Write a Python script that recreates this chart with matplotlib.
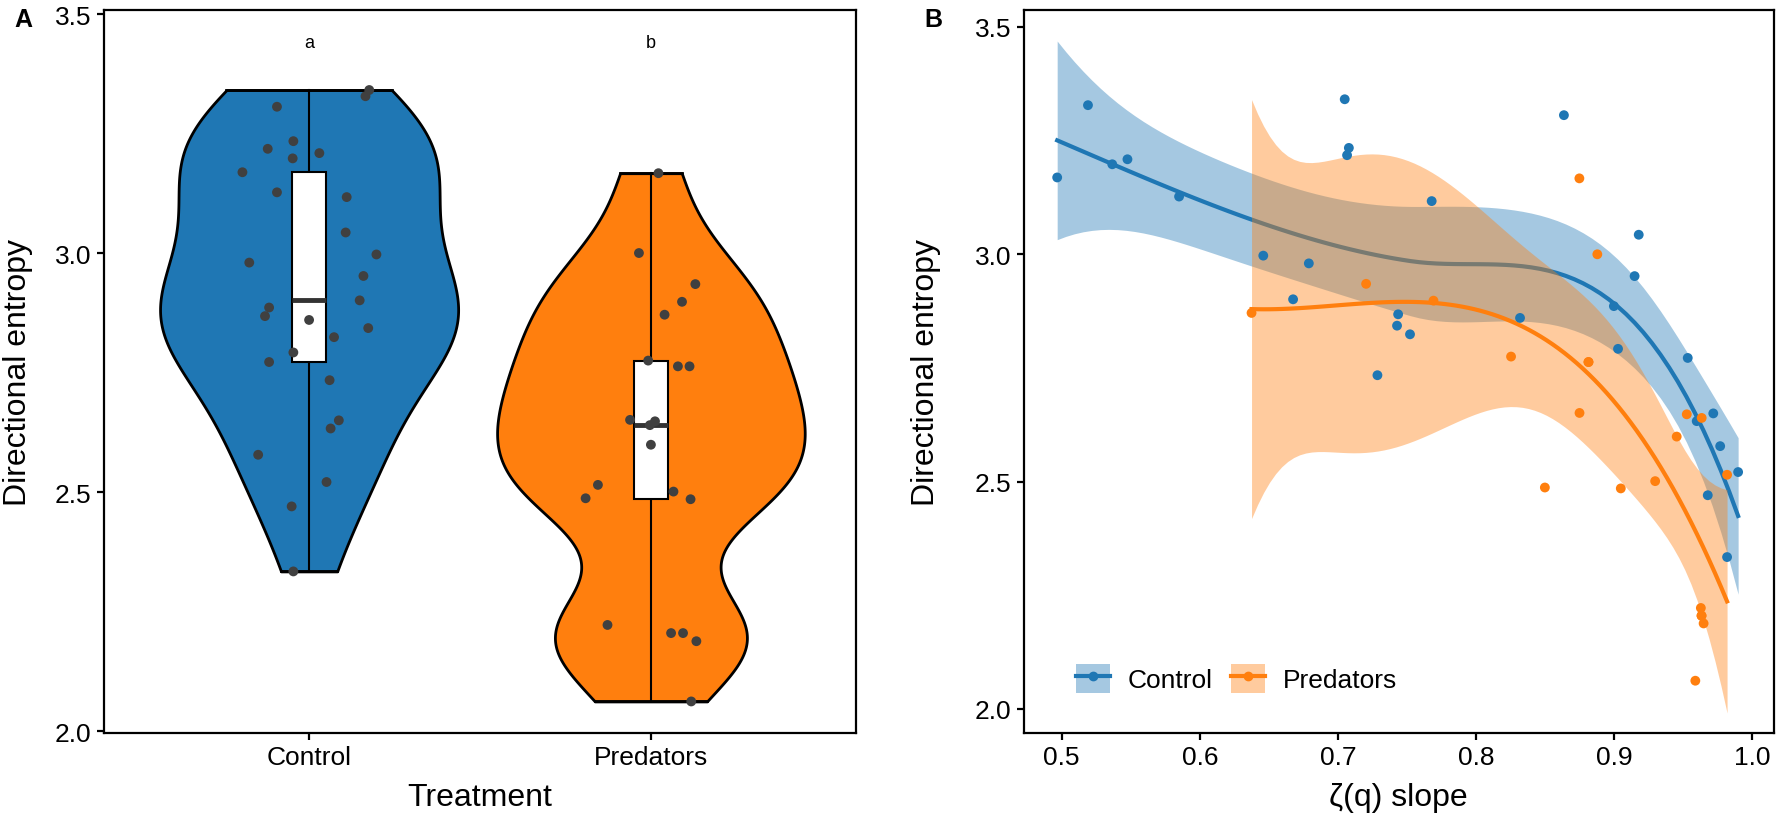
import numpy as np
import matplotlib
matplotlib.use("Agg")
import matplotlib.pyplot as plt
from matplotlib.patches import Patch
from matplotlib.lines import Line2D

plt.rcParams['font.family'] = ['Liberation Sans', 'DejaVu Sans']

treatments = ['Control', 'Predators']
letters = ['a', 'b']
colors = ['#1f77b4', '#ff7f0e']
# smoother used for each treatment's trend line in panel B
smoothers = ['loess', 'cubic']

# zeta(q) slope and directional entropy, one entry per animal
control_slope = [0.4967, 0.519, 0.5366, 0.5476, 0.585, 0.705, 0.708, 0.7067,
                 0.768, 0.8638, 0.646, 0.679, 0.6676, 0.918, 0.915, 0.7437,
                 0.7429, 0.7523, 0.832, 0.900, 0.903, 0.7287, 0.9535, 0.972,
                 0.960, 0.977, 0.990, 0.968, 0.982]
control_entropy = [3.169, 3.328, 3.198, 3.209, 3.127, 3.341, 3.234, 3.218,
                   3.117, 3.306, 2.997, 2.980, 2.901, 3.043, 2.952, 2.868,
                   2.843, 2.824, 2.860, 2.886, 2.792, 2.734, 2.772, 2.650,
                   2.633, 2.578, 2.521, 2.470, 2.334]
control_jitter = [-0.195, 0.165, -0.048, 0.030, -0.094, 0.176, -0.046, -0.121,
                  0.110, -0.094, 0.197, -0.175, 0.148, 0.107, 0.159, -0.129,
                  0.173, 0.073, 0.0, -0.117, -0.046, 0.060, -0.117, 0.087,
                  0.063, -0.149, 0.051, -0.051, -0.046]

pred_slope = [0.6375, 0.7205, 0.7693, 0.8255, 0.8500, 0.8751, 0.8750, 0.8816,
              0.8816, 0.8880, 0.9050, 0.9299, 0.9455, 0.9528, 0.9636, 0.9820,
              0.9630, 0.9635, 0.9635, 0.9650, 0.9590]
pred_entropy = [2.871, 2.935, 2.898, 2.775, 2.487, 2.651, 3.167, 2.763,
                2.763, 3.000, 2.485, 2.501, 2.599, 2.648, 2.640, 2.515,
                2.222, 2.205, 2.205, 2.188, 2.062]
pred_jitter = [0.040, 0.130, 0.091, -0.008, -0.191, -0.061, 0.022, 0.079,
               0.113, -0.035, 0.116, 0.066, 0.0, 0.012, -0.003, -0.155,
               -0.127, 0.059, 0.094, 0.133, 0.118]

y_ticks = [2.0, 2.5, 3.0, 3.5]
x_ticks_b = [0.5, 0.6, 0.7, 0.8, 0.9, 1.0]


def density(y, grid):
    """Gaussian KDE with R's bw.nrd0 bandwidth"""
    y = np.asarray(y)
    iqr = np.subtract(*np.percentile(y, [75, 25]))
    bw = 0.9 * min(np.std(y, ddof=1), iqr / 1.34) * len(y) ** -0.2
    z = (grid[:, None] - y[None, :]) / bw
    return np.exp(-0.5 * z ** 2).sum(axis=1) / (len(y) * bw * np.sqrt(2 * np.pi))


def t_quantile(df, z=1.959964):
    g1 = (z ** 3 + z) / 4
    g2 = (5 * z ** 5 + 16 * z ** 3 + 3 * z) / 96
    g3 = (3 * z ** 7 + 19 * z ** 5 + 17 * z ** 3 - 15 * z) / 384
    g4 = (79 * z ** 9 + 776 * z ** 7 + 1482 * z ** 5 - 1920 * z ** 3 - 945 * z) / 92160
    return z + g1 / df + g2 / df ** 2 + g3 / df ** 3 + g4 / df ** 4


def local_rows(x, x0, q):
    """Rows of the local quadratic fit at x0: value and slope"""
    n = len(x)
    d = np.abs(x - x0)
    h = np.sort(d)[q - 1]
    w = np.clip(1 - (d / h) ** 3, 0, None) ** 3
    X = np.column_stack([np.ones(n), x - x0, (x - x0) ** 2])
    XtW = X.T * w
    B = np.linalg.solve(XtW @ X, XtW)
    return B[0], B[1]


def kd_vertices(x, fc):
    """Cell boundaries of a 1-D kd tree, split at the median"""
    lo, hi = x.min(), x.max()
    marg = 0.005 * (hi - lo)
    verts = {lo - marg, hi + marg}

    def split(p):
        if len(p) <= fc:
            return
        m = (len(p) + 1) // 2 - 1
        v = (p[m] + p[m + 1]) / 2 if len(p) % 2 == 0 else p[m]
        if v == p[0] or v == p[-1]:
            return
        verts.add(v)
        split(p[:m + 1])
        split(p[m + 1:])

    split(np.sort(x))
    return np.array(sorted(verts))


def loess_matrix(x, xout, span=0.75):
    """Loess operator: fits at kd-tree vertices, cubic Hermite in between"""
    n = len(x)
    q = int(np.floor(n * span))
    verts = kd_vertices(x, q)
    vals, slopes = zip(*[local_rows(x, v, q) for v in verts])
    vals, slopes = np.array(vals), np.array(slopes)
    L = np.zeros((len(xout), n))
    for k, x0 in enumerate(xout):
        j = min(np.searchsorted(verts, x0, side='right') - 1, len(verts) - 2)
        a, b = verts[j], verts[j + 1]
        h = b - a
        t = (x0 - a) / h
        h00 = 2 * t ** 3 - 3 * t ** 2 + 1
        h10 = t ** 3 - 2 * t ** 2 + t
        h01 = -2 * t ** 3 + 3 * t ** 2
        h11 = t ** 3 - t ** 2
        L[k] = h00 * vals[j] + h10 * h * slopes[j] + h01 * vals[j + 1] + h11 * h * slopes[j + 1]
    return L


def smooth_loess(x, y, xs):
    L = loess_matrix(x, x)
    res = y - L @ y
    M = np.eye(len(x)) - L
    R = M.T @ M
    d1 = np.trace(R)
    d2 = np.trace(R @ R)
    s = np.sqrt(np.sum(res ** 2) / d1)
    Lo = loess_matrix(x, xs)
    fit = Lo @ y
    se = s * np.sqrt(np.sum(Lo ** 2, axis=1))
    return fit, se, t_quantile(d1 ** 2 / d2)


def smooth_cubic(x, y, xs, degree=3):
    X = np.vander(x, degree + 1)
    beta, *_ = np.linalg.lstsq(X, y, rcond=None)
    dof = len(x) - (degree + 1)
    s = np.sqrt(np.sum((y - X @ beta) ** 2) / dof)
    cov = np.linalg.inv(X.T @ X)
    Xs = np.vander(xs, degree + 1)
    se = s * np.sqrt(np.einsum('ij,jk,ik->i', Xs, cov, Xs))
    return Xs @ beta, se, t_quantile(dof)


def smooth(x, y, method):
    """Trend line with a 95% confidence band"""
    x = np.asarray(x)
    y = np.asarray(y)
    xs = np.linspace(x.min(), x.max(), 80)
    if method == 'loess':
        fit, se, t = smooth_loess(x, y, xs)
    else:
        fit, se, t = smooth_cubic(x, y, xs)
    return xs, fit, fit - t * se, fit + t * se


def style_axes(ax):
    for sp in ax.spines.values():
        sp.set_linewidth(1.6)
        sp.set_color('black')
    ax.tick_params(axis='both', length=5, width=1.6, labelsize=19,
                   color='black', labelcolor='black', pad=4)


def make_violins(ax):
    groups = [control_entropy, pred_entropy]
    jitters = [control_jitter, pred_jitter]
    grids = [np.linspace(min(g), max(g), 512) for g in groups]
    dens = [density(g, grid) for g, grid in zip(groups, grids)]
    top = max(d.max() for d in dens)
    for i, (g, grid, d) in enumerate(zip(groups, grids, dens)):
        pos = i + 1
        half = 0.45 * d / top
        ax.fill_betweenx(grid, pos - half, pos + half, facecolor=colors[i],
                         edgecolor='black', linewidth=2, zorder=1)
        ax.plot([pos - half[0], pos + half[0]], [grid[0]] * 2, color='black', lw=2, zorder=1)
        ax.plot([pos - half[-1], pos + half[-1]], [grid[-1]] * 2, color='black', lw=2, zorder=1)
        q1, med, q3 = np.percentile(g, [25, 50, 75])
        ax.plot([pos, pos], [min(g), max(g)], color='black', lw=1.5, zorder=2)
        ax.add_patch(plt.Rectangle((pos - 0.05, q1), 0.1, q3 - q1, facecolor='white',
                                   edgecolor='black', lw=1.5, zorder=3))
        ax.plot([pos - 0.05, pos + 0.05], [med, med], color='#333333', lw=3.5,
                zorder=4, solid_capstyle='butt')
        ax.scatter(pos + np.asarray(jitters[i]), g, s=50, color='#404040',
                   edgecolor='none', zorder=5)
        ax.text(pos, 3.44, letters[i], ha='center', va='center', fontsize=13)
    ax.set_xlim(0.4, 2.6)
    ax.set_ylim(1.996, 3.509)
    ax.set_xticks([1, 2])
    ax.set_xticklabels(treatments)
    ax.set_yticks(y_ticks)
    ax.set_yticklabels([f'{v:.1f}' for v in y_ticks])
    ax.set_xlabel('Treatment', fontsize=23)
    ax.set_ylabel('Directional entropy', fontsize=23)
    ax.yaxis.set_label_coords(-0.095, 0.5)
    ax.xaxis.set_label_coords(0.5, -0.068)
    style_axes(ax)


def make_smooth(ax):
    data = [(control_slope, control_entropy), (pred_slope, pred_entropy)]
    for i, (x, y) in enumerate(data):
        xs, fit, lo, hi = smooth(x, y, smoothers[i])
        ax.fill_between(xs, lo, hi, color=colors[i], alpha=0.4, linewidth=0, zorder=1)
        ax.plot(xs, fit, color=colors[i], lw=3, zorder=1)
    for i, (x, y) in enumerate(data):
        ax.scatter(x, y, s=50, color=colors[i], edgecolor='none', zorder=3)
    handles = [(Patch(facecolor=c, alpha=0.4, edgecolor='none'),
                Line2D([], [], color=c, lw=3, marker='o', markersize=6)) for c in colors]
    ax.legend(handles, treatments, loc='lower left', bbox_to_anchor=(0.07, 0.055),
              ncol=2, frameon=False, fontsize=19, handlelength=1.3, handleheight=1.33,
              handletextpad=0.65, columnspacing=0.7, borderpad=0, borderaxespad=0)
    ax.set_xlim(0.4723, 1.016)
    ax.set_ylim(1.947, 3.538)
    ax.set_xticks(x_ticks_b)
    ax.set_xticklabels([f'{v:.1f}' for v in x_ticks_b])
    ax.set_yticks(y_ticks)
    ax.set_yticklabels([f'{v:.1f}' for v in y_ticks])
    ax.set_xlabel('ζ(q) slope', fontsize=23)
    ax.set_ylabel('Directional entropy', fontsize=23)
    ax.yaxis.set_label_coords(-0.11, 0.5)
    ax.xaxis.set_label_coords(0.5, -0.068)
    style_axes(ax)


def main():
    fig = plt.figure(figsize=(17.76, 8.2), dpi=100)
    ax_a = fig.add_axes([0.05856, 0.10488, 0.42342, 0.88207])
    ax_b = fig.add_axes([0.57630, 0.10488, 0.42258, 0.88207])
    make_violins(ax_a)
    make_smooth(ax_b)
    fig.text(14 / 1776, 1 - 20 / 820, 'A', fontsize=18, fontweight='bold', va='center')
    fig.text(924 / 1776, 1 - 20 / 820, 'B', fontsize=18, fontweight='bold', va='center')
    fig.savefig('out.png', dpi=100)


if __name__ == '__main__':
    main()
